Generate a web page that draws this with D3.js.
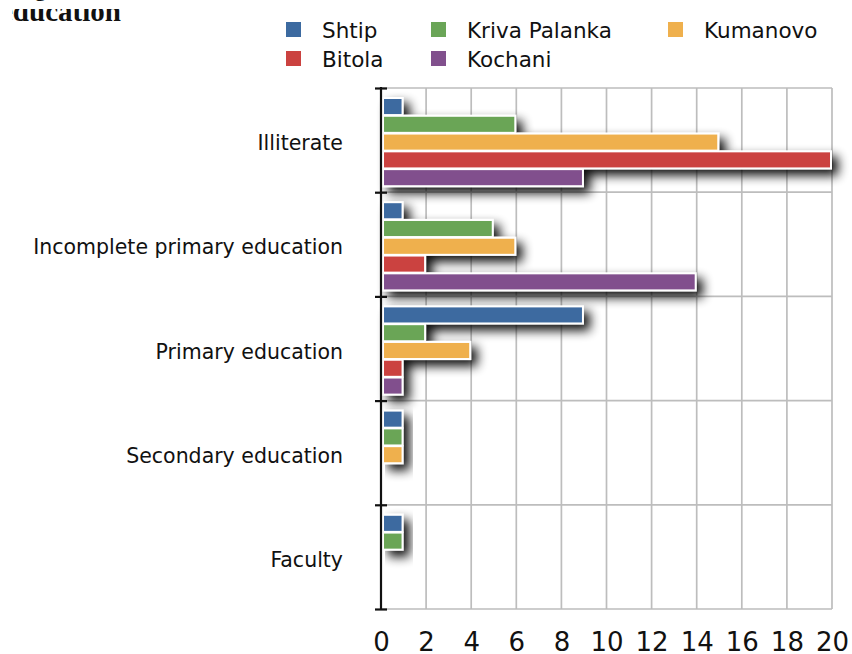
<!DOCTYPE html>
<html><head><meta charset="utf-8">
<script src="https://cdn.jsdelivr.net/npm/d3@7"></script>
<style>
html,body{margin:0;padding:0;background:#fff;}
svg{display:block;}
</style></head>
<body>
<svg id="chart" width="852" height="654"></svg>
<script>
// ---- data ----
const categories = ["Illiterate", "Incomplete primary education", "Primary education", "Secondary education", "Faculty"];
const seriesNames = ["Shtip", "Kriva Palanka", "Kumanovo", "Bitola", "Kochani"];
const seriesColors = ["#3c6aa0", "#6aa557", "#efb04d", "#cb4240", "#81508d"];
const shtip        = [1, 1, 9, 1, 1];
const krivaPalanka = [6, 5, 2, 1, 1];
const kumanovo     = [15, 6, 4, 1, 0];
const bitola       = [20, 2, 1, 0, 0];
const kochani      = [9, 14, 1, 0, 0];
const xTicks = [0, 2, 4, 6, 8, 10, 12, 14, 16, 18, 20];
const titleFragment = "education";

const seriesValues = [shtip, krivaPalanka, kumanovo, bitola, kochani];

const svg = d3.select("#chart");
const defs = svg.append("defs");
const f = defs.append("filter").attr("id","shadow").attr("x","-20%").attr("y","-40%").attr("width","170%").attr("height","240%");
f.append("feGaussianBlur").attr("in","SourceAlpha").attr("stdDeviation",5.5).attr("result","b");
f.append("feOffset").attr("in","b").attr("dx",6).attr("dy",6).attr("result","o");
f.append("feComponentTransfer").attr("in","o").attr("result","oc")
  .append("feFuncA").attr("type","linear").attr("slope",0.95);
const m = f.append("feMerge");
m.append("feMergeNode").attr("in","oc");
m.append("feMergeNode").attr("in","SourceGraphic");

defs.append("clipPath").attr("id","titleclip").append("rect").attr("x",12).attr("y",9).attr("width",300).attr("height",30);

// clipped caption fragment at top
svg.append("text").attr("clip-path","url(#titleclip)")
  .attr("x",0).attr("y",21)
  .attr("font-family","'Liberation Serif', serif").attr("font-weight","bold")
  .attr("font-size",29).attr("fill","#111").text(titleFragment);
svg.append("text").attr("x",35).attr("y",-4)
  .attr("font-family","'Liberation Serif', serif").attr("font-weight","bold")
  .attr("font-size",22).attr("fill","#111").text("g");

// scales
const x = d3.scaleLinear().domain([0,20]).range([381, 832]);
const y = d3.scaleBand().domain(categories).range([88, 609]).padding(0);
const yEdge = d3.scaleLinear().domain([0, categories.length]).range([88, 609]);
const inner = d3.scaleBand().domain(seriesNames).range([10, y.bandwidth()-6]).paddingInner(0.04);

// grid
const grid = svg.append("g");
grid.selectAll("line.v").data(xTicks.filter(d=>d>0)).join("line")
  .attr("x1",d=>x(d)).attr("x2",d=>x(d)).attr("y1",88).attr("y2",609)
  .attr("stroke","#bdbdbd").attr("stroke-width",1.7);
grid.selectAll("line.h").data(d3.range(categories.length+1)).join("line")
  .attr("x1",x(0)).attr("x2",x(20)).attr("y1",d=>yEdge(d)).attr("y2",d=>yEdge(d))
  .attr("stroke","#bdbdbd").attr("stroke-width",1.7);

// bars
const groups = svg.append("g").selectAll("g").data(categories).join("g")
  .attr("transform",c=>`translate(0,${y(c)})`).attr("filter","url(#shadow)");
groups.selectAll("rect").data((c,ci)=>seriesNames.map((s,si)=>({s,si,v:seriesValues[si][ci]})).filter(d=>d.v>0))
  .join("rect")
  .attr("x",x(0)+2).attr("y",d=>inner(d.s))
  .attr("width",d=>x(d.v)-x(0)-3).attr("height",inner.bandwidth())
  .attr("fill",d=>seriesColors[d.si]).attr("stroke","#fff").attr("stroke-width",2);

// y axis
const yAxis = svg.append("g").attr("transform",`translate(${x(0)},0)`)
  .call(d3.axisLeft(yEdge).tickValues(d3.range(categories.length+1)).tickFormat("").tickSize(6));
yAxis.select(".domain").attr("stroke","#111").attr("stroke-width",2.2).attr("d",`M0,87V610`);
yAxis.selectAll(".tick line").attr("x1",-6).attr("x2",6).attr("stroke","#111").attr("stroke-width",2.2);

// category labels
svg.append("g").selectAll("text").data(categories).join("text")
  .attr("x",343).attr("y",c=>y(c)+y.bandwidth()/2+10)
  .attr("text-anchor","end").attr("font-family","'DejaVu Sans', sans-serif")
  .attr("font-size",20.5).attr("fill","#111").text(c=>c);

// x axis labels
const xAxis = svg.append("g").attr("transform","translate(0,609)")
  .call(d3.axisBottom(x).tickValues(xTicks).tickSize(0).tickPadding(0));
xAxis.select(".domain").remove();
xAxis.selectAll(".tick text").attr("y",42).attr("dy",null)
  .attr("font-family","'DejaVu Sans', sans-serif").attr("font-size",26).attr("fill","#111");

// legend
const legendPos = [[286,22],[431,22],[668,22],[286,51],[431,51]];
const lg = svg.append("g").selectAll("g").data(seriesNames).join("g")
  .attr("transform",(d,i)=>`translate(${legendPos[i][0]},${legendPos[i][1]})`);
lg.append("rect").attr("width",15).attr("height",15).attr("fill",(d,i)=>seriesColors[i]);
lg.append("text").attr("x",36).attr("y",16)
  .attr("font-family","'DejaVu Sans', sans-serif").attr("font-size",21.5).attr("fill","#111").text(d=>d);
</script>
</body></html>
